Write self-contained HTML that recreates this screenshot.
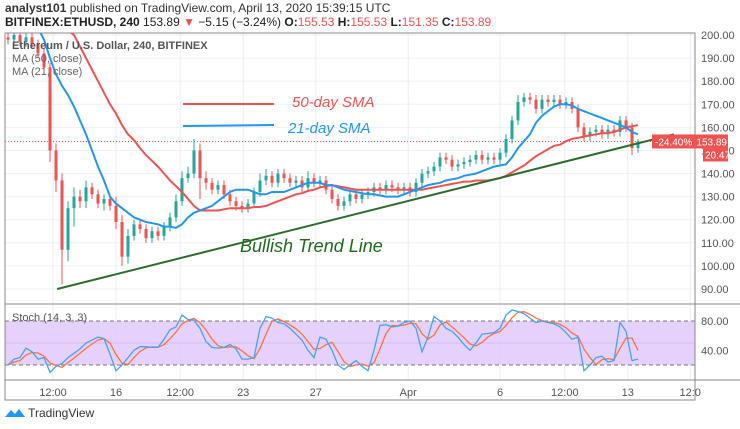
<!DOCTYPE html>
<html><head><meta charset="utf-8"><style>
body{margin:0;background:#fff;font-family:"Liberation Sans",sans-serif;}
#wrap{position:relative;width:740px;height:429px;overflow:hidden;background:#fff}
.t{position:absolute;white-space:nowrap}
</style></head><body><div id="wrap">
<div class="t" style="left:5px;top:1px;font-size:12px;color:#333"><b>analyst101</b> published on TradingView.com, April 13, 2020 15:39:15 UTC</div>
<div class="t" style="left:5px;top:15px;font-size:12px;color:#222"><b>BITFINEX:ETHUSD, 240</b> 153.89 <span style="color:#ef5350">▼</span> −5.15 (−3.24%) <b>O:</b><span style="color:#ef5350">155.53</span> <b>H:</b><span style="color:#ef5350">155.53</span> <b>L:</b><span style="color:#ef5350">151.35</span> <b>C:</b><span style="color:#ef5350">153.89</span></div>
<svg id="svg" width="740" height="429" style="position:absolute;left:0;top:0"></svg>
<div class="t" style="left:12px;top:40px;font-size:11px;color:#555;font-weight:bold">Ethereum / U.S. Dollar, 240, BITFINEX</div>
<div class="t" style="left:12px;top:53px;font-size:11px;color:#666">MA (50, close)</div>
<div class="t" style="left:12px;top:66px;font-size:11px;color:#666">MA (21, close)</div>
<div class="t" style="left:12px;top:312px;font-size:11px;color:#555">Stoch (14, 3, 3)</div>
<div class="t" style="left:292px;top:94px;font-size:15px;color:#ef5350;font-style:italic">50-day SMA</div>
<div class="t" style="left:288px;top:120px;font-size:15px;color:#2196f3;font-style:italic">21-day SMA</div>
<div class="t" style="left:240px;top:236px;font-size:18px;color:#1e6b1e;font-style:italic">Bullish Trend Line</div>
<div class="t" style="left:5px;top:406px;font-size:12px;color:#333"><svg width="20" height="12" style="vertical-align:-2px"><path d="M0 10 L6 3 L10 7 L14 2 L20 10 Z" fill="#2196f3"/></svg> TradingView</div>
</div>
<script>
const closes=[198,200,197,199,196,192,186,150,137,107,125,130,128,134,131,127,129,126,119,104,113,118,116,112,115,113,117,121,128,138,140,150,138,136,133,135,131,128,126,125,127,132,137,139,136,140,138,136,137,134,138,136,137,133,129,126,128,131,129,131,132,134,133,135,134,133,134,132,136,140,141,143,147,146,143,144,145,146,148,146,147,146,149,155,163,171,173,172,168,172,171,172,170,171,168,160,156,158,159,157,159,158,163,160,151,153.89];
const wickUp=[3,2,2,2,2,2,2,2,3,3,3,4,3,3,2,2,2,2,4,3,3,2,2,2,2,2,2,2,3,3,3,5,3,3,2,2,2,2,2,2,2,2,3,3,2,2,2,2,2,2,3,2,2,2,2,2,2,2,2,2,2,2,2,2,2,2,2,2,2,2,2,2,2,2,2,2,2,2,2,2,2,2,2,2,2,3,2,2,2,2,2,2,2,2,2,2,2,2,2,2,2,2,2,2,2,1];
const wickDn=[2,2,2,2,2,2,3,5,5,15,5,8,3,3,2,2,3,2,3,4,3,2,2,2,2,2,2,2,2,2,2,2,9,3,2,2,2,2,2,2,2,2,2,2,2,2,2,2,2,2,2,2,2,2,2,2,2,2,2,2,2,2,2,2,2,2,2,2,2,2,2,2,2,2,2,2,2,2,2,2,2,2,2,2,2,2,2,2,2,2,2,2,2,2,2,2,2,2,2,2,2,2,2,2,3,2];
const ma21=[225,222,218,214,208,203,198,190,183,178,174,169,163,157,150,143,137,130,127,125,123,121,120,119,118.5,118,117,117,116.5,118,121,123,124,125,126,128,130,132,133,133,133,132,131,131,132,132,132,133,134,135,136,136,136,135,135,134,133,132.5,132,131.5,131,131,130.5,130,130,130,131,132,133,134,135,135.5,136,137,137.5,138,139,139.5,140,141,142,143,143.5,144,147,151,154,157,162,165,167,169,170,170,169.5,168,167,166,165,164,163,162,161,160,158,157];
const ma50=[260,255,250,245,238,232,226,218,212,206,202,200,195,190,185,180,175,170,166,161,157,154.5,151,148,145.5,143,140,137,134.5,132,129,126,124,124,124,124,124.5,125,125,125,125,125.5,125.5,126,127,128,129,130,131,131.5,132.5,133,134,134.5,135,134.5,134,133.5,133,133,133,133,133,133,133,133,133,133,133,133,133.5,134,134.5,135,135.5,136,136.5,136.5,137,137,137,137.5,138,139,140.5,142,143.5,145.5,147.5,149,150.5,152,152.5,154,155,155.5,156,156.5,157,157.5,157.5,158,159,160,160.5,161];
const stochK=[20,28,30,43,38,28,30,10,18,22,30,36,42,50,54,58,56,35,12,20,30,40,45,45,44,44,55,68,72,88,82,81,70,52,44,43,44,48,42,28,28,30,70,86,84,78,76,70,62,54,40,30,58,55,40,20,14,20,26,18,12,40,74,75,72,73,78,80,70,38,58,86,80,70,66,58,48,40,50,62,63,64,70,88,95,93,90,84,78,80,78,76,72,64,55,58,12,20,30,32,24,26,78,66,26,28];
const priceTicks=[90,100,110,120,130,140,150,160,170,180,190,200];
const stochTicks=[40,80];
const timeLabels=["12:00","16","12:00","23","27","Apr","6","12:00","13","12:0"];
const timeIdx=[7.5,18,28.7,39.2,51.3,66.7,82,92.8,103.3,113.7];
const trendPts=[[8.2,90],[111,157]];
const lastPrice=153.89;

const svg=document.getElementById('svg');
const NS='http://www.w3.org/2000/svg';
const L=5,R=695,T=33,B=304,SB=380;
const x=i=>8+i*6;
const y=p=>35+(200-p)*2.309;
const sy=v=>321+(80-v)*0.733;
function mk(tag,a,parent){const e=document.createElementNS(NS,tag);for(const k in a)e.setAttribute(k,a[k]);(parent||svg).appendChild(e);return e;}
const defs=mk('defs',{});
const cp=mk('clipPath',{id:'mc'},defs);mk('rect',{x:L,y:T,width:R-L,height:B-T},cp);
const cs=mk('clipPath',{id:'sc'},defs);mk('rect',{x:L,y:B,width:R-L,height:SB-B},cs);
priceTicks.forEach(p=>{const g=mk('line',{x1:L,x2:R,y1:y(p),y2:y(p),stroke:'#eef1f6'});


const t=mk('text',{x:701,y:y(p)+4,'font-size':11,fill:'#555','font-family':'Liberation Sans'});t.textContent=p.toFixed(2);

});
timeIdx.forEach((ti,k)=>{const g=mk('line',{x1:x(ti),x2:x(ti),y1:T,y2:SB,stroke:'#e8eef6'});


const t=mk('text',{x:x(ti),y:396,'font-size':11,fill:'#555','text-anchor':'middle','font-family':'Liberation Sans'});t.textContent=timeLabels[k];

});
const band=mk('rect',{x:L,y:sy(80),width:R-L,height:sy(20)-sy(80),fill:'#e1c9fb',opacity:0.85});


[80,20].forEach(v=>{const l=mk('line',{x1:L,x2:R,y1:sy(v),y2:sy(v),stroke:'#777','stroke-dasharray':'4 3'});

});
mk('line',{x1:L,x2:R,y1:sy(50),y2:sy(50),stroke:'#d4bdf0'});
stochTicks.forEach(v=>{const t=mk('text',{x:701,y:sy(v)+4,'font-size':11,fill:'#555','font-family':'Liberation Sans'});t.textContent=v.toFixed(2);

});
const fr=mk('rect',{x:L,y:T,width:R-L,height:400-T,fill:'none',stroke:'#888'});


mk('line',{x1:L,x2:740,y1:B,y2:B,stroke:'#888'});
mk('line',{x1:L,x2:740,y1:SB,y2:SB,stroke:'#888'});
mk('line',{x1:R,x2:R,y1:T,y2:400,stroke:'#888'});
const main=mk('g',{'clip-path':'url(#mc)'});
mk('line',{x1:L,x2:R,y1:y(lastPrice),y2:y(lastPrice),stroke:'#ef5350','stroke-dasharray':'1 2'},main);
closes.forEach((c,i)=>{const o=i?closes[i-1]:c+1;const up=c>=o;const col=up?'#26a69a':'#ef5350';
const hi=Math.max(o,c)+wickUp[i],lo=Math.min(o,c)-wickDn[i];
const g=mk('g',{},main);


mk('line',{x1:x(i),x2:x(i),y1:y(hi),y2:y(lo),stroke:col,'stroke-width':1},g);
const top=y(Math.max(o,c)),h=Math.max(1,Math.abs(y(o)-y(c)));
mk('rect',{x:x(i)-1.5,y:top,width:3,height:h,fill:col},g);});
function poly(arr,fy,col,w,parent,name){const d=arr.map((v,i)=>(i?'L':'M')+x(i).toFixed(1)+' '+fy(v).toFixed(1)).join(' ');
const p=mk('path',{d,fill:'none',stroke:col,'stroke-width':w},parent);

return p;}
poly(ma50,y,'#ef5350',2,main,'ma50-line');
poly(ma21,y,'#2196f3',2,main,'ma21-line');
const tl=mk('line',{x1:x(trendPts[0][0]),y1:y(trendPts[0][1]),x2:x(trendPts[1][0]),y2:y(trendPts[1][1]),stroke:'#2e6b2e','stroke-width':2},main);


const l1=mk('line',{x1:183,x2:274,y1:104,y2:104,stroke:'#ef5350','stroke-width':2});


const l2=mk('line',{x1:183,x2:274,y1:126,y2:125,stroke:'#2196f3','stroke-width':2});


const stochD=stochK.map((v,i)=>{const a=stochK.slice(Math.max(0,i-2),i+1);return a.reduce((s,q)=>s+q,0)/a.length;});
const sg=mk('g',{'clip-path':'url(#sc)'});
poly(stochD,sy,'#ff7043',1.3,sg,'stoch-d-line');
poly(stochK,sy,'#42a5f5',1.3,sg,'stoch-k-line');
const pl=mk('rect',{x:652,y:y(lastPrice)-7,width:76,height:14,fill:'#ef5350'});


let t=mk('text',{x:655,y:y(lastPrice)+4,'font-size':10,fill:'#fff','font-family':'Liberation Sans'});t.textContent='-24.40%';
t=mk('text',{x:727,y:y(lastPrice)+4,'font-size':10,fill:'#fff','text-anchor':'end','font-family':'Liberation Sans'});t.textContent=lastPrice.toFixed(2);
const cd=mk('rect',{x:703,y:y(lastPrice)+7,width:25,height:13,fill:'#ef5350'});


t=mk('text',{x:705,y:y(lastPrice)+17,'font-size':10,fill:'#fff','font-family':'Liberation Sans'});t.textContent='20:47';
</script></body></html>
